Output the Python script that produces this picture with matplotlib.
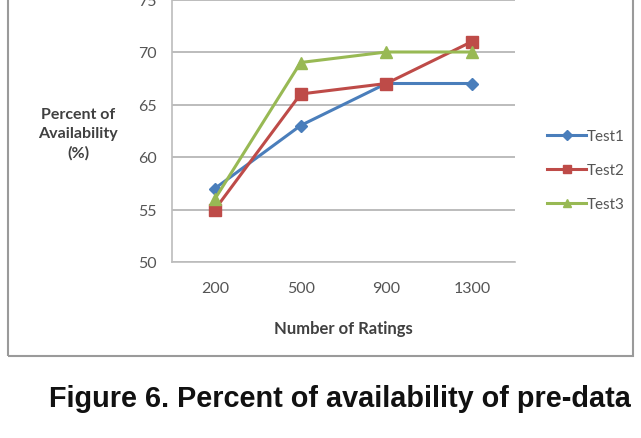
import matplotlib
matplotlib.use("Agg")
import matplotlib.pyplot as plt
from matplotlib.patches import Rectangle

# data
ratings = ["200", "500", "900", "1300"]
test1 = [57, 63, 67, 67]
test2 = [55, 66, 67, 71]
test3 = [56, 69, 70, 70]
yticks = [50, 55, 60, 65, 70, 75]

W, H = 641, 439
fig = plt.figure(figsize=(W / 100, H / 100), dpi=100)
fig.patch.set_facecolor("white")

# outer chart frame (top edge is cut off by the image)
fig.patches.append(Rectangle((8 / W, 1 - 357 / H), 625 / W, 357 / H + 0.05,
                             transform=fig.transFigure, fill=False,
                             edgecolor="#9a9a9a", linewidth=1.5))

ax = fig.add_axes([172 / W, 1 - 263 / H, 343 / W, 262.5 / H])
x = range(len(ratings))
ax.plot(x, test1, color="#4a7ebb", lw=2.2, marker="D", ms=6, label="Test1")
ax.plot(x, test2, color="#be4b48", lw=2.2, marker="s", ms=8, label="Test2")
ax.plot(x, test3, color="#98b954", lw=2.2, marker="^", ms=8, label="Test3")

ax.set_xlim(-0.5, 3.5)
ax.set_ylim(50, 75)
ax.set_yticks(yticks)
ax.set_xticks(list(x))
ax.set_xticklabels(ratings)
ax.grid(axis="y", color="#b0b0b0", lw=1.2)
ax.set_axisbelow(True)
for s in ["top", "right"]:
    ax.spines[s].set_visible(False)
ax.spines["left"].set_color("#bcbcbc")
ax.spines["bottom"].set_color("#bcbcbc")
ax.spines["left"].set_linewidth(1.2)
ax.spines["bottom"].set_linewidth(1.2)
ax.tick_params(axis="both", length=0, labelsize=11.5, labelcolor="#555555")
ax.tick_params(axis="y", pad=11)
ax.tick_params(axis="x", pad=14)
for t in ax.get_xticklabels() + ax.get_yticklabels():
    t.set_family("Lato")

ax.set_xlabel("Number of Ratings", fontsize=12, fontweight="bold",
              family="Lato", color="#404040", labelpad=18)
fig.text(78 / W, 1 - 134 / H, "Percent of\nAvailability\n(%)", ha="center",
         va="center", fontsize=11.5, fontweight="bold", family="Lato",
         color="#404040", linespacing=1.45)

leg = ax.legend(loc="center left", bbox_to_anchor=(533 / W, 1 - 171 / H),
                bbox_transform=fig.transFigure, frameon=False,
                prop={"family": "Lato", "size": 11}, handlelength=2.6,
                handletextpad=0.05, labelspacing=1.3, markerscale=0.8)
for t in leg.get_texts():
    t.set_color("#555555")

fig.text(340 / W, 1 - 407 / H, "Figure 6. Percent of availability of pre-data",
         ha="center", va="baseline", fontsize=20.8, fontweight="bold",
         family="Liberation Sans", color="#111111")

fig.savefig("out.png", dpi=100)
